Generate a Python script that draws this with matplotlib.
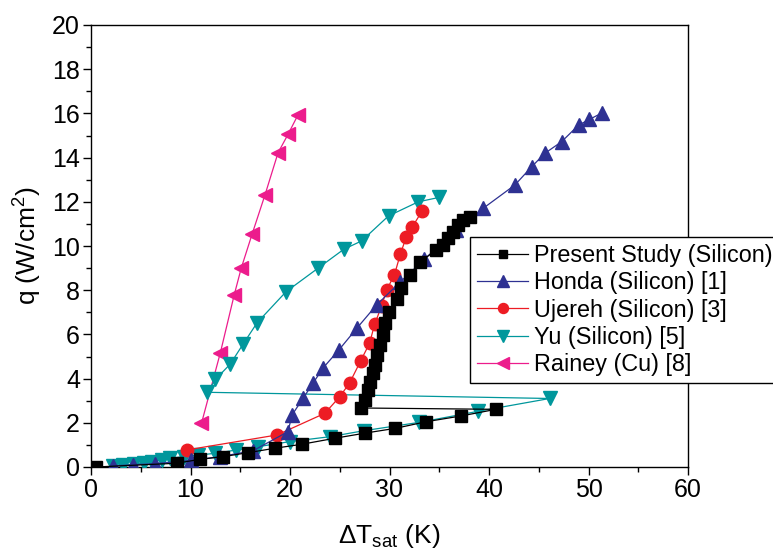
import matplotlib
matplotlib.use("Agg")
import matplotlib.pyplot as plt
from matplotlib.ticker import MultipleLocator

plt.rcParams['font.family'] = ['Liberation Sans', 'DejaVu Sans']
plt.rcParams['mathtext.fontset'] = 'custom'
plt.rcParams['mathtext.rm'] = 'Liberation Sans'
plt.rcParams['mathtext.it'] = 'Liberation Sans'

# Present Study (Silicon)
present_x = [0.5, 8.6, 11.0, 13.3, 15.8, 18.5, 21.2, 24.5, 27.5, 30.6, 33.7, 37.2, 40.7,
             27.1, 27.5, 27.8, 28.0, 28.3, 28.5, 28.7, 29.0, 29.3, 29.5, 29.9, 30.8, 31.2,
             32.1, 33.1, 34.7, 35.4, 35.9, 36.4, 36.9, 37.4, 38.1]
present_y = [0.0, 0.17, 0.35, 0.47, 0.65, 0.85, 1.03, 1.30, 1.53, 1.75, 2.05, 2.31, 2.61,
             2.67, 3.03, 3.48, 3.86, 4.24, 4.62, 5.07, 5.52, 5.97, 6.5, 7.03, 7.59, 8.09,
             8.69, 9.29, 9.82, 10.04, 10.35, 10.65, 10.95, 11.18, 11.33]

# Honda (Silicon) [1]
honda_x = [2.2, 4.2, 6.4, 10.1, 13.0, 16.3, 19.8, 20.2, 21.3, 22.3, 23.3, 24.9, 26.7,
           28.7, 31.1, 33.5, 36.7, 39.4, 42.6, 44.3, 45.6, 47.3, 49.0, 50.1, 51.4]
honda_y = [0.05, 0.1, 0.15, 0.3, 0.47, 0.74, 1.6, 2.35, 3.1, 3.78, 4.47, 5.29, 6.27,
           7.33, 8.38, 9.4, 10.72, 11.7, 12.76, 13.59, 14.19, 14.72, 15.47, 15.73, 16.03]

# Ujereh (Silicon) [3]
ujereh_x = [9.6, 18.7, 23.5, 25.0, 26.0, 27.1, 28.0, 28.5, 29.2, 29.7, 30.5, 31.1, 31.7, 32.3, 33.3]
ujereh_y = [0.77, 1.45, 2.43, 3.18, 3.81, 4.8, 5.6, 6.45, 7.28, 8.0, 8.7, 9.65, 10.42, 10.87, 11.6]

# Yu (Silicon) [5]
yu_x = [2.2, 3.2, 4.3, 5.3, 6.1, 7.1, 7.9, 9.3, 10.8, 12.5, 14.6, 16.8, 20.0, 24.0, 27.4,
        33.0, 38.9, 46.1,
        11.7, 12.5, 14.0, 15.3, 16.7, 19.6, 22.8, 25.4, 27.2, 29.9, 32.9, 35.0]
yu_y = [0.05, 0.09, 0.12, 0.17, 0.24, 0.32, 0.39, 0.47, 0.54, 0.62, 0.77, 0.92, 1.15, 1.37, 1.64,
        2.02, 2.52, 3.1,
        3.38, 3.96, 4.66, 5.57, 6.53, 7.93, 8.99, 9.85, 10.23, 11.36, 12.0, 12.2]

# Rainey (Cu) [8]
rainey_x = [11.1, 13.0, 14.4, 15.1, 16.2, 17.5, 18.8, 19.8, 20.8]
rainey_y = [1.97, 5.17, 7.8, 9.0, 10.55, 12.33, 14.22, 15.05, 15.93]

labels = ["Present Study (Silicon)", "Honda (Silicon) [1]", "Ujereh (Silicon) [3]",
          "Yu (Silicon) [5]", "Rainey (Cu) [8]"]

fig = plt.figure(figsize=(7.73, 5.54), dpi=100)
ax = fig.add_axes([91/773, (554-467)/554, 597/773, 442/554])

lw = 0.9
ax.plot(present_x, present_y, color='black', lw=lw, marker='s', ms=8, label=labels[0], zorder=6)
ax.plot(honda_x, honda_y, color='#2E3192', lw=lw, marker='^', ms=10.5, label=labels[1], zorder=5)
ax.plot(ujereh_x, ujereh_y, color='#ED1C24', lw=lw, marker='o', ms=9, label=labels[2], zorder=4)
ax.plot(yu_x, yu_y, color='#00979C', lw=lw, marker='v', ms=10.5, label=labels[3], zorder=3)
ax.plot(rainey_x, rainey_y, color='#EC1C8C', lw=lw, marker='<', ms=10.5, label=labels[4], zorder=2)

ax.set_xlim(0, 60)
ax.set_ylim(0, 20)
ax.xaxis.set_major_locator(MultipleLocator(10))
ax.xaxis.set_minor_locator(MultipleLocator(5))
ax.yaxis.set_major_locator(MultipleLocator(2))
ax.yaxis.set_minor_locator(MultipleLocator(1))
ax.tick_params(which='both', direction='out', top=False, right=False, labelsize=18, width=1, pad=2)
ax.tick_params(which='major', length=6)
ax.tick_params(which='minor', length=3.5)
for s in ax.spines.values():
    s.set_linewidth(1)

ax.set_xlabel(r'$\Delta$T$_{\rm sat}$ (K)', fontsize=19, labelpad=14)
ax.set_ylabel('q (W/cm$^{2}$)', fontsize=19, labelpad=6)

leg = ax.legend(loc='upper left', bbox_to_anchor=(0.635, 0.52), fontsize=16.8,
                frameon=True, fancybox=False, edgecolor='black', framealpha=1,
                handlelength=2.2, handletextpad=0.25, labelspacing=0.18,
                borderpad=0.3, borderaxespad=0, markerscale=0.8)
leg.get_frame().set_linewidth(1)
leg.set_zorder(10)

fig.savefig('out.png', dpi=100)
